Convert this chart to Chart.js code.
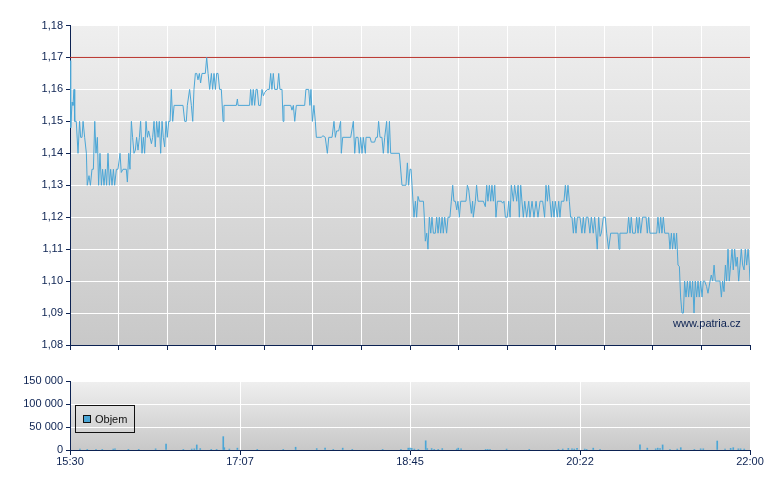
<!DOCTYPE html>
<html>
<head>
<meta charset="utf-8">
<script src="https://cdn.jsdelivr.net/npm/chart.js@4"></script>
<style>
  body { margin: 0; background: #fff; width: 780px; height: 490px; position: relative; overflow: hidden; font-family: "Liberation Sans", Arial, sans-serif; }
  #cenaGraf { position: absolute; left: 0; top: 0; }
  #objemGraf { position: absolute; left: 0; top: 360px; }
  #legenda { position: absolute; left: 75px; top: 405px; width: 58px; height: 26px; border: 1px solid #111; }
  #legenda .box { position: absolute; left: 7px; top: 9px; width: 6px; height: 6px; background: #4ba6d6; border: 1px solid #111; }
  #legenda .txt { position: absolute; left: 19px; top: 8px; font-size: 11px; line-height: 11px; color: #111; }
  #vodoznak { position: absolute; left: 673px; top: 317px; font-size: 11px; line-height: 12px; color: #0c2252; }
</style>
</head>
<body>
<canvas id="cenaGraf" width="780" height="360"></canvas>
<canvas id="objemGraf" width="780" height="130"></canvas>
<div id="legenda"><span class="box"></span><span class="txt">Objem</span></div>
<div id="vodoznak">www.patria.cz</div>
<script>
// minuty od 15:30
const casPopisky = ['15:30', '17:07', '18:45', '20:22', '22:00'];
const casPozice = [0, 97.5, 195, 292.5, 390];
const cenaOsa = [1.08, 1.09, 1.10, 1.11, 1.12, 1.13, 1.14, 1.15, 1.16, 1.17, 1.18];
const objemOsa = [0, 50000, 100000, 150000];
const predchoziZaviraci = 1.17;

const cenaCas = [
  0, 0.4, 1.2, 1.7, 2.3, 2.7, 3.6, 4.6, 5.5, 6.1, 6.9, 7.5, 8.4, 9.4, 9.9, 10.9, 11.7, 12.6, 13.4, 14.2,
  14.9, 15.7, 16.4, 17.2, 18.0, 18.7, 19.5, 20.3, 21.0, 21.8, 22.6, 23.3, 24.1, 24.9, 25.6, 26.6, 27.5, 28.7, 29.4, 30.4,
  32.3, 32.9, 33.7, 34.4, 35.2, 35.9, 36.7, 37.5, 38.2, 39.0, 39.8, 40.5, 41.3, 42.1, 42.8, 43.6, 44.4, 45.1, 45.9, 46.7,
  47.4, 48.2, 48.9, 49.7, 50.5, 51.2, 52.0, 52.8, 53.5, 54.3, 55.1, 55.8, 56.6, 57.4, 58.1, 58.9, 59.7, 64.8, 65.8, 66.7,
  67.3, 68.6, 69.6, 70.4, 71.1, 71.9, 72.7, 73.4, 74.2, 74.9, 75.7, 77.6, 78.4, 79.2, 80.1, 81.1, 81.8, 82.6, 83.4, 84.1,
  84.9, 85.8, 86.8, 87.8, 88.3, 95.4, 96.0, 96.4, 103.0, 103.6, 104.4, 105.1, 105.9, 106.7, 107.4, 108.2, 109.3, 110.1, 110.9, 111.6,
  113.2, 114.3, 115.1, 115.8, 116.6, 117.4, 118.9, 119.7, 120.4, 121.6, 122.2, 122.7, 126.6, 127.3, 128.1, 128.9, 129.8, 134.6, 135.3, 136.9,
  137.6, 138.2, 139.0, 139.9, 140.7, 141.3, 144.1, 145.1, 146.4, 147.6, 148.4, 150.3, 151.4, 152.2, 152.9, 154.1, 155.2, 155.6, 156.4, 161.0,
  162.5, 163.3, 164.0, 165.2, 165.9, 166.7, 167.5, 168.2, 169.4, 169.8, 172.1, 172.8, 174.7, 175.5, 176.3, 177.0, 177.8, 178.9, 179.7, 180.5,
  181.6, 182.4, 183.2, 183.9, 188.9, 190.4, 192.7, 193.5, 194.2, 195.0, 195.6, 197.3, 198.1, 198.8, 199.6, 200.4, 202.7, 203.2, 203.8, 204.6,
  205.3, 206.1, 206.9, 207.6, 208.4, 209.5, 210.3, 211.1, 211.8, 212.6, 213.4, 214.1, 214.9, 216.0, 216.8, 217.9, 218.7, 219.5, 220.2, 221.0,
  221.8, 222.5, 223.3, 224.1, 227.1, 227.9, 228.7, 229.4, 230.2, 230.9, 231.3, 232.5, 233.2, 234.0, 237.1, 238.2, 239.0, 239.7, 240.5, 241.3,
  242.0, 242.8, 243.6, 244.3, 245.1, 247.4, 248.1, 248.9, 249.7, 250.8, 251.6, 252.4, 253.1, 254.3, 255.0, 256.2, 257.0, 257.7, 258.5, 259.2,
  260.0, 260.8, 261.9, 263.1, 263.8, 265.0, 266.1, 267.3, 268.4, 269.6, 271.1, 272.2, 273.0, 273.8, 274.5, 275.3, 276.1, 276.8, 277.6, 278.3,
  279.5, 280.3, 281.0, 281.8, 283.3, 284.1, 284.9, 285.6, 286.4, 287.1, 287.9, 288.7, 289.4, 290.2, 291.0, 292.5, 293.6, 294.4, 295.2, 296.1,
  297.1, 298.2, 299.0, 300.1, 300.9, 301.7, 302.4, 303.2, 304.0, 304.7, 305.9, 307.0, 307.8, 308.9, 310.1, 314.3, 314.9, 315.4, 319.6, 320.4,
  321.2, 321.9, 322.7, 324.2, 325.0, 325.8, 326.5, 327.3, 328.4, 330.4, 331.1, 331.9, 332.6, 336.5, 337.2, 338.0, 338.8, 339.5, 340.3, 341.1,
  343.4, 344.1, 344.9, 345.6, 346.4, 347.2, 347.9, 348.7, 349.5, 350.2, 351.0, 351.8, 352.5, 353.3, 354.1, 354.8, 355.6, 356.4, 357.1, 357.9,
  358.6, 359.4, 360.2, 360.9, 361.7, 362.5, 363.2, 364.0, 365.1, 365.9, 367.1, 367.8, 368.6, 369.4, 370.1, 372.8, 373.6, 374.3, 375.1, 375.9,
  376.6, 377.4, 378.1, 378.9, 379.7, 380.4, 381.2, 382.0, 382.7, 383.5, 384.3, 385.0, 385.8, 386.6, 387.3, 388.1, 388.9, 389.6, 390.0
];
const cenaHodnoty = [
  1.169, 1.148, 1.156, 1.155, 1.16, 1.15, 1.15, 1.14, 1.15, 1.145, 1.145, 1.15, 1.145, 1.14, 1.13, 1.133, 1.13, 1.135, 1.135, 1.15,
  1.14, 1.145, 1.13, 1.14, 1.13, 1.135, 1.13, 1.135, 1.13, 1.14, 1.13, 1.135, 1.13, 1.135, 1.13, 1.135, 1.135, 1.14, 1.134, 1.135,
  1.135, 1.131, 1.14, 1.135, 1.15, 1.145, 1.14, 1.141, 1.145, 1.141, 1.145, 1.15, 1.14, 1.145, 1.14, 1.15, 1.145, 1.147, 1.145, 1.143,
  1.145, 1.15, 1.142, 1.15, 1.145, 1.15, 1.14, 1.15, 1.145, 1.142, 1.15, 1.145, 1.15, 1.15, 1.16, 1.15, 1.155, 1.155, 1.15, 1.15,
  1.155, 1.16, 1.155, 1.15, 1.16, 1.165, 1.165, 1.163, 1.165, 1.162, 1.165, 1.165, 1.17, 1.165, 1.16, 1.165, 1.16, 1.165, 1.16, 1.165,
  1.165, 1.16, 1.16, 1.15, 1.155, 1.155, 1.157, 1.155, 1.155, 1.16, 1.155, 1.16, 1.155, 1.16, 1.16, 1.155, 1.155, 1.16, 1.158, 1.159,
  1.16, 1.16, 1.165, 1.16, 1.165, 1.16, 1.16, 1.165, 1.16, 1.16, 1.15, 1.155, 1.155, 1.1535, 1.155, 1.15, 1.155, 1.155, 1.16, 1.16,
  1.155, 1.16, 1.15, 1.155, 1.15, 1.145, 1.145, 1.1455, 1.145, 1.14, 1.145, 1.145, 1.15, 1.145, 1.147, 1.147, 1.15, 1.14, 1.145, 1.145,
  1.15, 1.14, 1.145, 1.145, 1.14, 1.145, 1.14, 1.145, 1.14, 1.145, 1.145, 1.1435, 1.1435, 1.145, 1.145, 1.15, 1.145, 1.145, 1.14, 1.145,
  1.15, 1.14, 1.15, 1.14, 1.14, 1.13, 1.13, 1.137, 1.13, 1.135, 1.135, 1.12, 1.125, 1.12, 1.1265, 1.125, 1.125, 1.12, 1.1125, 1.115,
  1.11, 1.12, 1.115, 1.12, 1.115, 1.115, 1.12, 1.115, 1.12, 1.115, 1.12, 1.115, 1.12, 1.115, 1.12, 1.12, 1.125, 1.13, 1.125, 1.125,
  1.1223, 1.125, 1.12, 1.125, 1.125, 1.13, 1.1285, 1.125, 1.1212, 1.125, 1.12, 1.125, 1.13, 1.125, 1.125, 1.1233, 1.13, 1.125, 1.13, 1.125,
  1.13, 1.125, 1.13, 1.12, 1.125, 1.125, 1.1244, 1.125, 1.12, 1.12, 1.125, 1.12, 1.13, 1.125, 1.13, 1.125, 1.13, 1.12, 1.13, 1.125,
  1.12, 1.125, 1.12, 1.125, 1.12, 1.125, 1.12, 1.125, 1.12, 1.125, 1.125, 1.12, 1.13, 1.125, 1.13, 1.125, 1.12, 1.125, 1.12, 1.125,
  1.12, 1.125, 1.12, 1.125, 1.125, 1.13, 1.125, 1.13, 1.125, 1.12, 1.12, 1.115, 1.12, 1.115, 1.12, 1.12, 1.115, 1.12, 1.115, 1.12,
  1.12, 1.115, 1.12, 1.115, 1.12, 1.115, 1.11, 1.12, 1.114, 1.115, 1.12, 1.12, 1.115, 1.11, 1.115, 1.115, 1.11, 1.115, 1.115, 1.12,
  1.115, 1.12, 1.115, 1.115, 1.12, 1.115, 1.12, 1.115, 1.12, 1.12, 1.115, 1.12, 1.115, 1.115, 1.12, 1.115, 1.12, 1.115, 1.12, 1.115,
  1.115, 1.11, 1.115, 1.11, 1.115, 1.11, 1.115, 1.105, 1.1046, 1.095, 1.09, 1.09, 1.10, 1.095, 1.10, 1.095, 1.10, 1.095, 1.10, 1.09,
  1.10, 1.095, 1.10, 1.095, 1.10, 1.095, 1.10, 1.10, 1.0983, 1.0962, 1.10, 1.1019, 1.10, 1.105, 1.10, 1.10, 1.095, 1.10, 1.0967, 1.105,
  1.10, 1.11, 1.10, 1.105, 1.11, 1.1035, 1.11, 1.1046, 1.1075, 1.10, 1.105, 1.11, 1.105, 1.1035, 1.11, 1.105, 1.11, 1.105, 1.10
];

const objemCas = [
  5.7, 9.9, 14.9, 18.5, 24.8, 25.8, 33.5, 39.4, 49.1, 55.1, 65.0, 69.8, 71.3, 72.7, 74.7, 81.0, 84.1, 87.9, 88.5, 91.4,
  96.0, 107.4, 122.3, 129.4, 141.5, 146.3, 151.0, 156.4, 161.9, 179.3, 189.8, 194.0, 195.0, 196.0, 197.5, 199.8, 204.0, 204.9, 207.4, 208.9,
  211.2, 213.5, 221.8, 222.7, 224.3, 238.4, 239.6, 240.9, 250.4, 263.4, 280.1, 282.6, 285.8, 287.9, 289.2, 290.8, 295.2, 296.3, 300.1, 304.0,
  326.9, 331.1, 335.9, 337.1, 338.4, 339.9, 344.1, 348.3, 350.3, 358.1, 361.7, 363.2, 371.2, 375.7, 378.9, 380.4, 383.3, 384.6, 386.7
];
const objemHodnoty = [
  2000, 1500, 1500, 1500, 2000, 2500, 1500, 1500, 2500, 13000, 1500, 2000, 2500, 11000, 3000, 1500, 1500, 29000, 5000, 2000,
  4000, 1500, 1500, 6000, 3000, 4000, 1500, 4000, 1500, 1500, 1500, 4000, 4000, 3500, 2000, 1500, 20000, 3000, 3000, 1500,
  1500, 3000, 2000, 4000, 2500, 1500, 1500, 1500, 2000, 1500, 1500, 2000, 3500, 2500, 2000, 3500, 2000, 1500, 4000, 1500,
  11000, 4000, 2500, 4000, 3000, 11000, 1500, 2000, 5000, 1500, 2500, 2500, 19500, 2000, 3500, 5000, 2500, 2500, 2000
];

const modra = '#0c2252';
const cara = '#4ba6d6';

Chart.defaults.font.family = '"Liberation Sans", Arial, sans-serif';
Chart.defaults.font.size = 11;
Chart.defaults.color = modra;

// sedy prechod pod grafem
const pozadi = {
  id: 'pozadi',
  beforeDraw(chart) {
    const a = chart.chartArea;
    const ctx = chart.ctx;
    const g = ctx.createLinearGradient(0, a.top, 0, a.bottom);
    g.addColorStop(0, '#efefef');
    g.addColorStop(1, '#c8c8c8');
    ctx.save();
    ctx.fillStyle = g;
    ctx.fillRect(a.left, a.top, a.right - a.left, a.bottom - a.top);
    ctx.restore();
  }
};

const krokMrizky = 390 / 14;
const mrizkaX = [];
for (let i = 0; i <= 14; i++) mrizkaX.push(i * krokMrizky);

const cenaBody = cenaCas.map((t, i) => ({ x: t, y: cenaHodnoty[i] }));
const zaviraciBody = [{ x: 0, y: predchoziZaviraci }, { x: 390, y: predchoziZaviraci }];
const objemBody = objemCas.map((t, i) => ({ x: t, y: objemHodnoty[i] }));

new Chart(document.getElementById('cenaGraf'), {
  type: 'line',
  data: {
    datasets: [
      { data: cenaBody, borderColor: cara, borderWidth: 1, pointRadius: 0, tension: 0 },
      { data: zaviraciBody, borderColor: '#b8312a', borderWidth: 1, pointRadius: 0 }
    ]
  },
  options: {
    responsive: false,
    animation: false,
    layout: { padding: { top: 25.5, right: 30, left: 0, bottom: 0 } },
    plugins: { legend: { display: false }, tooltip: { enabled: false } },
    scales: {
      x: {
        type: 'linear', min: 0, max: 390,
        afterBuildTicks: a => { a.ticks = mrizkaX.map(v => ({ value: v })); },
        afterFit: a => { a.height = 15; },
        ticks: { display: false },
        grid: { color: '#ffffff', tickColor: modra, tickLength: 5 },
        border: { color: modra, width: 1 }
      },
      y: {
        min: 1.08, max: 1.18,
        afterBuildTicks: a => { a.ticks = cenaOsa.map(v => ({ value: v })); },
        afterFit: a => { a.width = 70; },
        ticks: { padding: 3, callback: v => v.toFixed(2).replace('.', ',') },
        grid: { color: '#ffffff', tickColor: modra, tickLength: 4 },
        border: { color: modra, width: 1 }
      }
    }
  },
  plugins: [pozadi]
});

new Chart(document.getElementById('objemGraf'), {
  type: 'bar',
  data: {
    datasets: [{ data: objemBody, backgroundColor: cara, barThickness: 1 }]
  },
  options: {
    responsive: false,
    animation: false,
    layout: { padding: { top: 21, right: 30, left: 0, bottom: 0 } },
    plugins: { legend: { display: false }, tooltip: { enabled: false } },
    scales: {
      x: {
        type: 'linear', min: 0, max: 390, offset: false,
        afterBuildTicks: a => { a.ticks = casPozice.map(v => ({ value: v })); },
        afterFit: a => { a.height = 40; },
        ticks: { padding: 0, maxRotation: 0, autoSkip: false, callback: (v, i) => casPopisky[i] },
        grid: { offset: false, color: '#ffffff', tickColor: modra, tickLength: 5 },
        border: { color: modra, width: 1 }
      },
      y: {
        min: 0, max: 150000,
        afterBuildTicks: a => { a.ticks = objemOsa.map(v => ({ value: v })); },
        afterFit: a => { a.width = 70; },
        ticks: { padding: 3, callback: v => String(v).replace(/\B(?=(\d{3})+(?!\d))/g, ' ') },
        grid: { color: '#ffffff', tickColor: modra, tickLength: 4 },
        border: { color: modra, width: 1 }
      }
    }
  },
  plugins: [pozadi]
});
</script>
</body>
</html>
